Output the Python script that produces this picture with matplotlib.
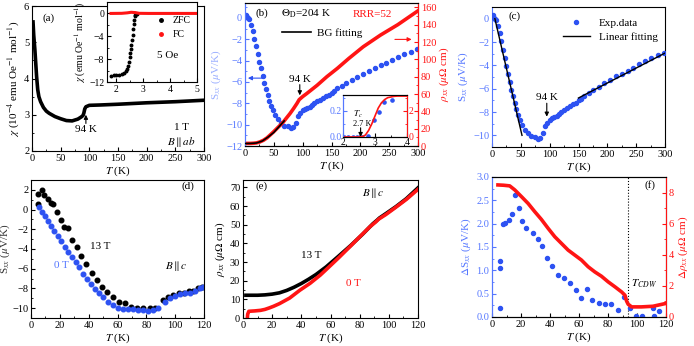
import numpy as np
import matplotlib.pyplot as plt
from matplotlib.ticker import MultipleLocator
from matplotlib.lines import Line2D

plt.rcParams['font.family'] = ['Liberation Serif', 'DejaVu Serif']
plt.rcParams['mathtext.fontset'] = 'stix'
plt.rcParams['font.size'] = 7.5
plt.rcParams['xtick.direction'] = 'in'
plt.rcParams['ytick.direction'] = 'in'
plt.rcParams['xtick.major.size'] = 3
plt.rcParams['ytick.major.size'] = 3
plt.rcParams['xtick.minor.size'] = 1.6
plt.rcParams['ytick.minor.size'] = 1.6
plt.rcParams['axes.linewidth'] = 0.8
plt.rcParams['xtick.major.pad'] = 2
plt.rcParams['ytick.major.pad'] = 2

BLUE = '#2d52f2'
BLUE_T = '#5577ff'
RED = '#ff1414'

# ---------------- DATA ----------------
# (a) susceptibility, 1 T
T_a = [1.8, 3, 5, 8, 10, 12, 15, 20, 25, 30, 40, 50, 60, 70, 80, 86, 89, 90.5, 92, 94, 100, 120, 150, 200, 250, 300]
chi_a = [5.56, 5.2, 4.8, 4.06, 3.69, 3.5, 3.36, 3.2, 3.1, 3.04, 2.95, 2.89, 2.84, 2.83, 2.88, 2.94, 2.98, 3.05, 3.16, 3.22, 3.26, 3.27, 3.29, 3.33, 3.36, 3.4]
# (a) inset, 5 Oe
T_zfc = [1.8, 1.9, 2.0, 2.1, 2.2, 2.3, 2.35, 2.4, 2.44, 2.47, 2.5, 2.52, 2.54, 2.56, 2.58, 2.6,
         2.62, 2.64, 2.66, 2.68, 2.7, 2.75]
chi_zfc = [-10.9, -10.85, -10.8, -10.75, -10.6, -10.4, -10.1, -9.7, -9.2, -8.5, -7.7, -7.0, -6.2,
           -5.5, -4.6, -3.8, -2.8, -1.9, -1.1, -0.5, -0.2, -0.05]
T_fc = [1.8, 2.2, 2.4, 2.55, 2.7, 2.85, 3.2, 4.0, 5.0]
chi_fc = [0, 0.02, 0.1, 0.2, 0.15, 0.02, 0, 0, 0]

# (b)/(c) thermopower, 0 T
T_S = [2, 3, 4.6, 7.5, 10.4, 13.3, 16.2, 19, 22, 24.9, 27.8, 30.7, 33.6, 36.5, 39.4, 42.3, 45, 48,
       52, 56.7, 62.5, 68.3, 74, 80, 84, 88.6, 92, 96, 100, 104, 108, 112, 116, 120, 125, 130, 135,
       140, 145, 150, 155, 160, 168, 176, 185, 195, 205, 215, 225, 235, 245, 255, 265, 275, 287, 298]
S_T = [0.3, 0.1, 0, -0.1, -0.66, -1.23, -1.94, -2.66, -3.37, -4.09, -4.7, -5.46, -6.09, -6.66, -7.23,
       -7.74, -8.23, -8.66, -9.09, -9.5, -9.8, -10.09, -10.17, -10.3, -10.23, -9.8, -9.2, -8.9, -8.66,
       -8.55, -8.45, -8.3, -8.15, -8.0, -7.8, -7.65, -7.5, -7.35, -7.2, -7.0, -6.85, -6.6, -6.35, -6.1,
       -5.85, -5.55, -5.25, -4.95, -4.7, -4.45, -4.2, -3.9, -3.65, -3.4, -3.15, -2.94]
# (b) resistivity
T_rho = [0, 5, 10, 15, 20, 25, 32, 38, 43, 49, 55, 61, 66.6, 72, 78, 84, 90, 94, 100, 107, 125, 142,
         160, 180, 205, 235, 265, 300]
rho_b = [3.0, 3.0, 3.0, 3.2, 3.6, 4.5, 6.6, 9.3, 12.3, 16, 20, 24, 27.8, 32.4, 37.4, 43, 49, 53.5, 57,
         60.5, 70, 80, 89.5, 101, 114.5, 128, 140, 156]
T_bg = [0, 10, 20, 30, 40, 50, 60, 68]
rho_bg = [2.9, 3.0, 3.5, 5.8, 10.3, 15.7, 23, 29]
# (b) inset
T_in = [2.0, 2.1, 2.2, 2.3, 2.4, 2.5, 2.6, 2.7, 2.8, 2.9, 3.0, 3.1, 3.2, 3.3, 3.4, 3.5, 3.6, 3.7, 3.8, 3.9, 4.0]
rho_in = [0, 0, 0, 0, 0, 0, 0.02, 0.15, 0.5, 1.0, 1.6, 2.2, 2.6, 2.85, 3.0, 3.05, 3.1, 3.12, 3.12, 3.12, 3.12]
T_sin = [2.02, 2.15, 2.3, 2.45, 2.6, 2.77, 2.97, 3.12, 3.27, 3.52]
S_in = [0, 0, 0, 0, 0, 0.01, 0.13, 0.19, 0.27, 0.28]

# (c) linear fits
fit1_T, fit1_S = [5, 52], [0, -10]
fit2_T, fit2_S = [150, 300], [-6.8, -2.95]

# (d) thermopower B || c
T_13 = [4.6, 5.1, 7.4, 9.2, 11.6, 13.6, 15.5, 18.3, 20.6, 22.9, 25.4, 28.2, 31.7, 34.7, 38.2, 42, 45.5,
        49, 53, 57, 61.3, 65.2, 69.1, 73.8, 78, 82.5, 86, 91.3, 95.3, 98.7, 102.7, 106.4, 109.6, 112.6,
        115.6, 118.8]
S_13 = [1.56, 0.6, 2.0, 1.5, 1.05, 0.64, 0.54, -0.28, -1.1, -1.78, -1.9, -3.07, -3.82, -4.7, -5.55,
        -6.4, -7.18, -7.83, -8.37, -8.88, -9.39, -9.5, -9.9, -9.94, -10, -10, -9.94, -9.22, -8.9, -8.7,
        -8.5, -8.5, -8.3, -8.3, -7.97, -7.9]
T_0 = [5.8, 7.9, 9.9, 12, 14.1, 16.2, 18.5, 20.8, 23.4, 25.9, 28.4, 31, 33.5, 36.3, 39, 41.6, 44.4,
       46.9, 50.2, 53.6, 57.1, 60.6, 64, 67.5, 71, 74.5, 78, 81.4, 84.9, 88.3, 93, 96.4, 99.9, 103.4,
       106.8, 110.3, 113.8, 117.2, 119.5]
S_0 = [0.27, -0.2, -0.65, -1.16, -1.64, -2.18, -2.7, -3.2, -3.75, -4.3, -4.84, -5.31, -5.86, -6.5, -7.0,
       -7.56, -8.03, -8.48, -8.92, -9.33, -9.67, -9.94, -10.1, -10.08, -10.08, -10.2, -10.2, -10.3,
       -10.2, -10.0, -9.4, -9.0, -8.75, -8.58, -8.48, -8.48, -8.3, -8.0, -7.9]

# (e) resistivity B || c
T_e13 = [2, 5, 10, 15, 20, 25, 30, 35, 40, 45, 50, 57, 65, 74, 82, 89, 92, 93.5, 98, 105, 112, 120]
rho_e13 = [12.2, 12.2, 12.2, 12.4, 12.8, 13.5, 14.8, 16.5, 18.5, 20.8, 23.3, 27.4, 32.8, 39, 44.9,
           50.5, 52.5, 53.6, 56, 59.8, 64, 69.8]
T_e0 = [3, 3.2, 4, 8, 12, 15, 18, 21, 25, 32, 39, 46, 53, 59, 66, 73, 80, 87, 91, 93, 98, 105, 112, 120]
rho_e0 = [0, 2, 3.6, 3.8, 4.1, 4.6, 5.4, 6.3, 7.7, 10.7, 14.9, 18.6, 23, 27.4, 32.6, 38, 43.5, 48.9,
          51.5, 53, 55.5, 59.5, 63.6, 69]

# (f) differences
T_dS = [5.3, 5.3, 5.8, 7.6, 9.2, 11.7, 14.1, 16.2, 18.4, 20.7, 23.3, 28.3, 32, 34.8, 38.2, 41.7, 45.6,
        49.5, 53.7, 57.6, 61.3, 65.2, 69.3, 73.9, 78, 82.4, 86.6, 90.7, 95.1, 99, 103.2, 111.2, 112, 115.4]
dS = [0.19, 1.06, 1.19, 1.99, 2.01, 2.07, 2.21, 2.61, 2.34, 2.05, 1.9, 1.79, 1.67, 1.52, 1.26, 1.09,
      0.9, 0.84, 0.72, 0.58, 0.41, 0.6, 0.37, 0.29, 0.27, 0.27, 0.16, 0.42, 0.19, 0.02, 0.02, 0.19,
      0.02, 0.12]
T_drho = [4.1, 8, 12.2, 15.7, 20.3, 24.9, 29.5, 34, 38.7, 43.3, 47.9, 52.5, 57.1, 61.7, 66.3, 70.9, 75.5,
          80.1, 84.8, 89.4, 91.7, 92.8, 93.9, 96.3, 103, 111, 119.3]
drho = [8.49, 8.47, 8.43, 8.17, 7.74, 7.3, 6.77, 6.28, 5.7, 5.16, 4.73, 4.3, 3.98, 3.66, 3.23, 2.9, 2.62,
        2.26, 1.94, 1.61, 1.4, 1.03, 0.82, 0.65, 0.65, 0.69, 0.86]
T_cdw = 94

# ---------------- FIGURE ----------------
W, H = 694, 346
fig = plt.figure(figsize=(W / 100, H / 100), dpi=100)


def px(l, t, r, b):
    return fig.add_axes([l / W, 1 - b / H, (r - l) / W, (b - t) / H])


def arrow(ax, xy, xytext, color='k'):
    ax.annotate('', xy=xy, xytext=xytext,
                arrowprops=dict(arrowstyle='-|>', color=color, lw=0.8, mutation_scale=6,
                                shrinkA=0, shrinkB=0))


def color_left(ax, c):
    ax.spines['left'].set_color(c)
    ax.tick_params(axis='y', which='both', colors=c)
    ax.yaxis.label.set_color(c)


Tlab = r'$T$ (K)'
Slab = r'S$_{xx}$ ($\mu$V/K)'

# ---- (a)
ax = px(32, 6, 204, 151)
ax.plot(T_a, chi_a, color='k', lw=2.6)
ax.set_xlim(0, 300)
ax.set_ylim(2, 6)
ax.xaxis.set_major_locator(MultipleLocator(50))
ax.xaxis.set_minor_locator(MultipleLocator(25))
ax.yaxis.set_major_locator(MultipleLocator(1))
ax.yaxis.set_minor_locator(MultipleLocator(0.5))
ax.set_xlabel(Tlab, labelpad=1, fontsize=8)
ax.set_ylabel(r'$\chi$ (10$^{-4}$ emu Oe$^{-1}$ mol$^{-1}$)', labelpad=2, fontsize=8)
ax.text(0.06, 0.9, '(a)', transform=ax.transAxes, fontsize=8)
ax.text(94, 2.6, '94 K', ha='center', va='center', fontsize=8)
arrow(ax, (94, 3.0), (94, 2.76))
ax.text(261, 2.64, '1 T', ha='center', va='center', fontsize=8)
ax.text(261, 2.25, r'$B\parallel ab$', ha='center', va='center', fontsize=8)

ins = px(107, 2, 197, 82)
ins.plot(T_fc, chi_fc, color=RED, lw=2.2, zorder=3)
ins.plot(T_zfc, chi_zfc, 'o', color='k', ms=1.8, zorder=2)
ins.set_xlim(1.65, 5)
ins.set_ylim(-12, 2)
ins.xaxis.set_major_locator(MultipleLocator(1))
ins.xaxis.set_minor_locator(MultipleLocator(0.5))
ins.yaxis.set_major_locator(MultipleLocator(4))
ins.yaxis.set_minor_locator(MultipleLocator(2))
ins.tick_params(labelsize=7)
ins.set_ylabel(r'$\chi$ (emu Oe$^{-1}$ mol$^{-1}$)', fontsize=7, labelpad=1)
h1 = Line2D([], [], ls='none', marker='o', color='k', ms=2.5, label='ZFC')
h2 = Line2D([], [], ls='none', marker='o', color=RED, ms=2.5, label='FC')
ins.legend(handles=[h1, h2], loc='upper left', bbox_to_anchor=(0.48, 0.88), frameon=False,
           fontsize=7, handlelength=1.2, handletextpad=0.6, labelspacing=0.5, borderpad=0)
ins.text(3.5, -7.3, '5 Oe', fontsize=8, va='center')

# ---- (b)
ax = px(245, 3, 418, 146)
ax.plot(T_S, S_T, 'o', color=BLUE, ms=2.9, zorder=3)
ax.set_xlim(0, 300)
ax.set_ylim(-12, 1.4)
ax.xaxis.set_major_locator(MultipleLocator(50))
ax.xaxis.set_minor_locator(MultipleLocator(25))
ax.yaxis.set_major_locator(MultipleLocator(2))
ax.yaxis.set_minor_locator(MultipleLocator(1))
ax.set_xlabel(Tlab, labelpad=1, fontsize=8)
ax.set_ylabel(Slab, fontsize=8, labelpad=2)
color_left(ax, BLUE_T)
ax.yaxis.label.set_alpha(0.6)
ax.text(0.097, 0.91, '(b)', transform=ax.transAxes, fontsize=8, ha='center')
ax.text(0.353, 0.905, r'$\Theta_{\rm D}$=204 K', transform=ax.transAxes, fontsize=8, ha='center')
ax.text(0.737, 0.905, 'RRR=52', transform=ax.transAxes, fontsize=8, ha='center', color=RED)
arrow(ax, (5, -5.64), (31, -5.64), color=BLUE)
ax.text(95, -5.75, '94 K', ha='center', va='center', fontsize=8)
arrow(ax, (95, -7.25), (95, -6.25))
axr = ax.twinx()
axr.plot(T_rho, rho_b, color=RED, lw=2.6, zorder=2)
axr.plot(T_bg, rho_bg, color='k', lw=1.2, zorder=3, label='BG fitting')
axr.set_ylim(0, 165)
axr.yaxis.set_major_locator(MultipleLocator(20))
axr.yaxis.set_minor_locator(MultipleLocator(10))
axr.spines['right'].set_color(RED)
axr.spines['left'].set_color(BLUE_T)
axr.tick_params(axis='y', which='both', colors=RED)
axr.set_ylabel(r'$\rho_{xx}$ ($\mu\Omega$ cm)', color=RED, fontsize=8, labelpad=1)
axr.legend(loc='upper left', bbox_to_anchor=(0.18, 0.86), frameon=False, fontsize=8,
           handlelength=2.6, handletextpad=0.6, borderpad=0)
arrow(axr, (289, 123), (260, 123), color=RED)

inb = px(343, 95, 407, 137)
inb.plot(T_sin, S_in, 'o', color=BLUE, ms=2.3, zorder=3)
inb.set_xlim(2, 4)
inb.set_ylim(0, 0.32)
inb.xaxis.set_major_locator(MultipleLocator(1))
inb.xaxis.set_minor_locator(MultipleLocator(0.5))
inb.yaxis.set_major_locator(MultipleLocator(0.2))
inb.yaxis.set_minor_locator(MultipleLocator(0.1))
inb.tick_params(labelsize=7, pad=1)
color_left(inb, BLUE_T)
inb.text(2.45, 0.175, r'$T_c$', fontsize=6.5, ha='center', va='center')
inb.text(2.6, 0.1, '2.7 K', fontsize=6, ha='center', va='center')
arrow(inb, (2.55, 0.0), (2.55, 0.07))
inbr = inb.twinx()
inbr.plot(T_in, rho_in, color=RED, lw=1.2)
inbr.set_ylim(0, 3.2)
inbr.yaxis.set_major_locator(MultipleLocator(2))
inbr.yaxis.set_minor_locator(MultipleLocator(1))
inbr.spines['right'].set_color(RED)
inbr.spines['left'].set_color(BLUE_T)
inbr.tick_params(axis='y', which='both', colors=RED, labelsize=7, pad=1)

# ---- (c)
ax = px(492, 7, 665, 147)
ax.plot(T_S, S_T, 'o', color=BLUE, ms=2.9, label='Exp.data', zorder=3)
ax.plot(fit1_T, fit1_S, color='k', lw=1.0, label='Linear fitting', zorder=4)
ax.plot(fit2_T, fit2_S, color='k', lw=1.0, zorder=4)
ax.set_xlim(0, 300)
ax.set_ylim(-11, 1)
ax.xaxis.set_major_locator(MultipleLocator(50))
ax.xaxis.set_minor_locator(MultipleLocator(25))
ax.yaxis.set_major_locator(MultipleLocator(2))
ax.yaxis.set_minor_locator(MultipleLocator(1))
ax.set_xlabel(Tlab, labelpad=1, fontsize=8)
ax.set_ylabel(Slab, fontsize=8, labelpad=2)
color_left(ax, BLUE_T)
ax.text(0.13, 0.915, '(c)', transform=ax.transAxes, fontsize=8, ha='center')
ax.legend(loc='upper right', bbox_to_anchor=(0.99, 0.96), frameon=False, fontsize=8,
          handlelength=2.4, handletextpad=0.8, labelspacing=0.4, borderpad=0)
ax.text(95, -6.8, '94 K', ha='center', va='center', fontsize=8)
arrow(ax, (95, -8.4), (95, -7.25))

# ---- (d)
ax = px(31, 180, 204, 318)
ax.plot(T_13, S_13, 'o', color='k', ms=3.3)
ax.plot(T_0, S_0, 'o', color=BLUE, ms=3.3)
ax.set_xlim(0, 120)
ax.set_ylim(-11, 3)
ax.xaxis.set_major_locator(MultipleLocator(20))
ax.xaxis.set_minor_locator(MultipleLocator(10))
ax.yaxis.set_major_locator(MultipleLocator(2))
ax.yaxis.set_minor_locator(MultipleLocator(1))
ax.set_xlabel(Tlab, labelpad=1, fontsize=8)
ax.set_ylabel(Slab, fontsize=8, labelpad=0, color='#333333')
ax.text(0.909, 0.94, '(d)', transform=ax.transAxes, fontsize=8, ha='center')
ax.text(47.9, -3.7, '13 T', fontsize=8, ha='center', va='center')
ax.text(21.3, -5.65, '0 T', fontsize=8, ha='center', va='center', color=BLUE_T)
ax.text(101, -5.76, r'$B\parallel c$', fontsize=8, ha='center', va='center')

# ---- (e)
ax = px(243, 180, 418, 318)
ax.plot(T_e0, rho_e0, color=RED, lw=2.6, zorder=2)
ax.plot(T_e13, rho_e13, color='k', lw=2.6, zorder=1)
ax.set_xlim(0, 120)
ax.set_ylim(0, 74)
ax.xaxis.set_major_locator(MultipleLocator(20))
ax.xaxis.set_minor_locator(MultipleLocator(10))
ax.yaxis.set_major_locator(MultipleLocator(10))
ax.yaxis.set_minor_locator(MultipleLocator(5))
ax.set_xlabel(Tlab, labelpad=1, fontsize=8)
ax.set_ylabel(r'$\rho_{xx}$ ($\mu\Omega$ cm)', fontsize=8, labelpad=2)
ax.text(0.107, 0.94, '(e)', transform=ax.transAxes, fontsize=8, ha='center')
ax.text(89.7, 67, r'$B\parallel c$', fontsize=8, ha='center', va='center')
ax.text(46.9, 33.7, '13 T', fontsize=8, ha='center', va='center')
ax.text(75.4, 18.5, '0 T', fontsize=8, ha='center', va='center', color=RED)

# ---- (f)
ax = px(492, 177, 666, 317)
ax.plot(T_dS, dS, 'o', color=BLUE, ms=2.9, zorder=3)
ax.axvline(T_cdw, color='k', ls=':', lw=0.8)
ax.set_xlim(0, 120)
ax.set_ylim(0, 3)
ax.xaxis.set_major_locator(MultipleLocator(20))
ax.xaxis.set_minor_locator(MultipleLocator(10))
ax.yaxis.set_major_locator(MultipleLocator(0.5))
ax.yaxis.set_minor_locator(MultipleLocator(0.25))
ax.set_xlabel(Tlab, labelpad=1, fontsize=8)
ax.set_ylabel(r'$\Delta$S$_{xx}$ ($\mu$V/K)', fontsize=8, labelpad=2)
color_left(ax, BLUE_T)
ax.text(0.908, 0.92, '(f)', transform=ax.transAxes, fontsize=8, ha='center')
ax.text(96, 0.72, r'$T_{CDW}$', fontsize=8, va='center')
axr = ax.twinx()
axr.plot(T_drho, drho, color=RED, lw=2.6)
axr.set_ylim(0, 9)
axr.yaxis.set_major_locator(MultipleLocator(2))
axr.yaxis.set_minor_locator(MultipleLocator(1))
axr.spines['right'].set_color(RED)
axr.spines['left'].set_color(BLUE_T)
axr.tick_params(axis='y', which='both', colors=RED)
axr.set_ylabel(r'$\Delta\rho_{xx}$ ($\mu\Omega$ cm)', color=RED, fontsize=8, labelpad=2)

fig.savefig('out.png', dpi=100)
